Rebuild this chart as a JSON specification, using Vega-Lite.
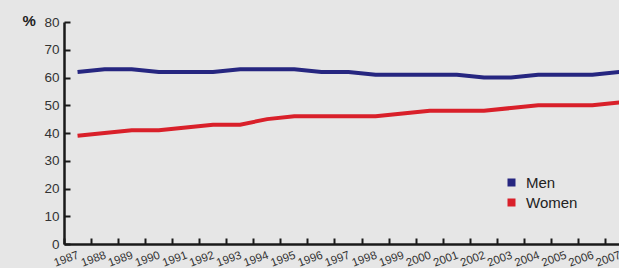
{
  "$schema": "https://vega.github.io/schema/vega-lite/v6.json",
  "autosize": "none",
  "width": 555,
  "height": 222,
  "padding": {"left": 64, "top": 22, "right": 0, "bottom": 24},
  "background": "#e6e6e6",
  "config": {
    "view": {"stroke": null},
    "font": "Liberation Sans"
  },
  "data": {
    "values": [
      {"year": "1987", "sex": "Men", "pct": 62}, {"year": "1988", "sex": "Men", "pct": 63},
      {"year": "1989", "sex": "Men", "pct": 63}, {"year": "1990", "sex": "Men", "pct": 62},
      {"year": "1991", "sex": "Men", "pct": 62}, {"year": "1992", "sex": "Men", "pct": 62},
      {"year": "1993", "sex": "Men", "pct": 63}, {"year": "1994", "sex": "Men", "pct": 63},
      {"year": "1995", "sex": "Men", "pct": 63}, {"year": "1996", "sex": "Men", "pct": 62},
      {"year": "1997", "sex": "Men", "pct": 62}, {"year": "1998", "sex": "Men", "pct": 61},
      {"year": "1999", "sex": "Men", "pct": 61}, {"year": "2000", "sex": "Men", "pct": 61},
      {"year": "2001", "sex": "Men", "pct": 61}, {"year": "2002", "sex": "Men", "pct": 60},
      {"year": "2003", "sex": "Men", "pct": 60}, {"year": "2004", "sex": "Men", "pct": 61},
      {"year": "2005", "sex": "Men", "pct": 61}, {"year": "2006", "sex": "Men", "pct": 61},
      {"year": "2007", "sex": "Men", "pct": 62},
      {"year": "1987", "sex": "Women", "pct": 39}, {"year": "1988", "sex": "Women", "pct": 40},
      {"year": "1989", "sex": "Women", "pct": 41}, {"year": "1990", "sex": "Women", "pct": 41},
      {"year": "1991", "sex": "Women", "pct": 42}, {"year": "1992", "sex": "Women", "pct": 43},
      {"year": "1993", "sex": "Women", "pct": 43}, {"year": "1994", "sex": "Women", "pct": 45},
      {"year": "1995", "sex": "Women", "pct": 46}, {"year": "1996", "sex": "Women", "pct": 46},
      {"year": "1997", "sex": "Women", "pct": 46}, {"year": "1998", "sex": "Women", "pct": 46},
      {"year": "1999", "sex": "Women", "pct": 47}, {"year": "2000", "sex": "Women", "pct": 48},
      {"year": "2001", "sex": "Women", "pct": 48}, {"year": "2002", "sex": "Women", "pct": 48},
      {"year": "2003", "sex": "Women", "pct": 49}, {"year": "2004", "sex": "Women", "pct": 50},
      {"year": "2005", "sex": "Women", "pct": 50}, {"year": "2006", "sex": "Women", "pct": 50},
      {"year": "2007", "sex": "Women", "pct": 51}
    ]
  },
  "mark": {"type": "line", "strokeWidth": 4, "clip": false},
  "encoding": {
    "x": {
      "field": "year",
      "type": "ordinal",
      "scale": {"type": "band", "range": [0, 569], "paddingInner": 0, "paddingOuter": 0},
      "axis": {
        "title": null,
        "bandPosition": 0,
        "domainColor": "#1a1a1a",
        "domainWidth": 2.5,
        "tickColor": "#1a1a1a",
        "tickWidth": 2,
        "tickSize": -6,
        "labelAngle": -20,
        "labelAlign": "center",
        "labelBaseline": "middle",
        "labelPadding": 21,
        "labelOffset": -11,
        "labelFontSize": 11.5,
        "labelColor": "#333333",
        "labelFont": "Liberation Sans",
        "labelOverlap": false
      }
    },
    "y": {
      "field": "pct",
      "type": "quantitative",
      "scale": {"domain": [0, 80], "nice": false},
      "axis": {
        "values": [0, 10, 20, 30, 40, 50, 60, 70, 80],
        "grid": false,
        "title": "%",
        "titleAngle": 0,
        "titleAlign": "left",
        "titleBaseline": "middle",
        "titleX": -42,
        "titleY": -2,
        "titleFontSize": 15,
        "titleFontWeight": "bold",
        "titleColor": "#222222",
        "titleFont": "Liberation Sans",
        "domainColor": "#1a1a1a",
        "domainWidth": 2.5,
        "tickColor": "#1a1a1a",
        "tickWidth": 2,
        "tickSize": -6,
        "labelPadding": 11,
        "labelFontSize": 13.5,
        "labelColor": "#333333",
        "labelFont": "Liberation Sans"
      }
    },
    "color": {
      "field": "sex",
      "type": "nominal",
      "scale": {"domain": ["Men", "Women"], "range": ["#262680", "#d9202a"]},
      "legend": {
        "title": null,
        "orient": "none",
        "legendX": 440,
        "legendY": 153,
        "symbolType": "square",
        "symbolSize": 64,
        "labelFontSize": 15,
        "labelColor": "#222222",
        "labelFont": "Liberation Sans",
        "labelOffset": 7,
        "rowPadding": 4,
        "encode": {
          "symbols": {
            "update": {
              "fill": {"scale": "color", "field": "value"},
              "strokeWidth": {"value": 0}
            }
          }
        }
      }
    }
  }
}
